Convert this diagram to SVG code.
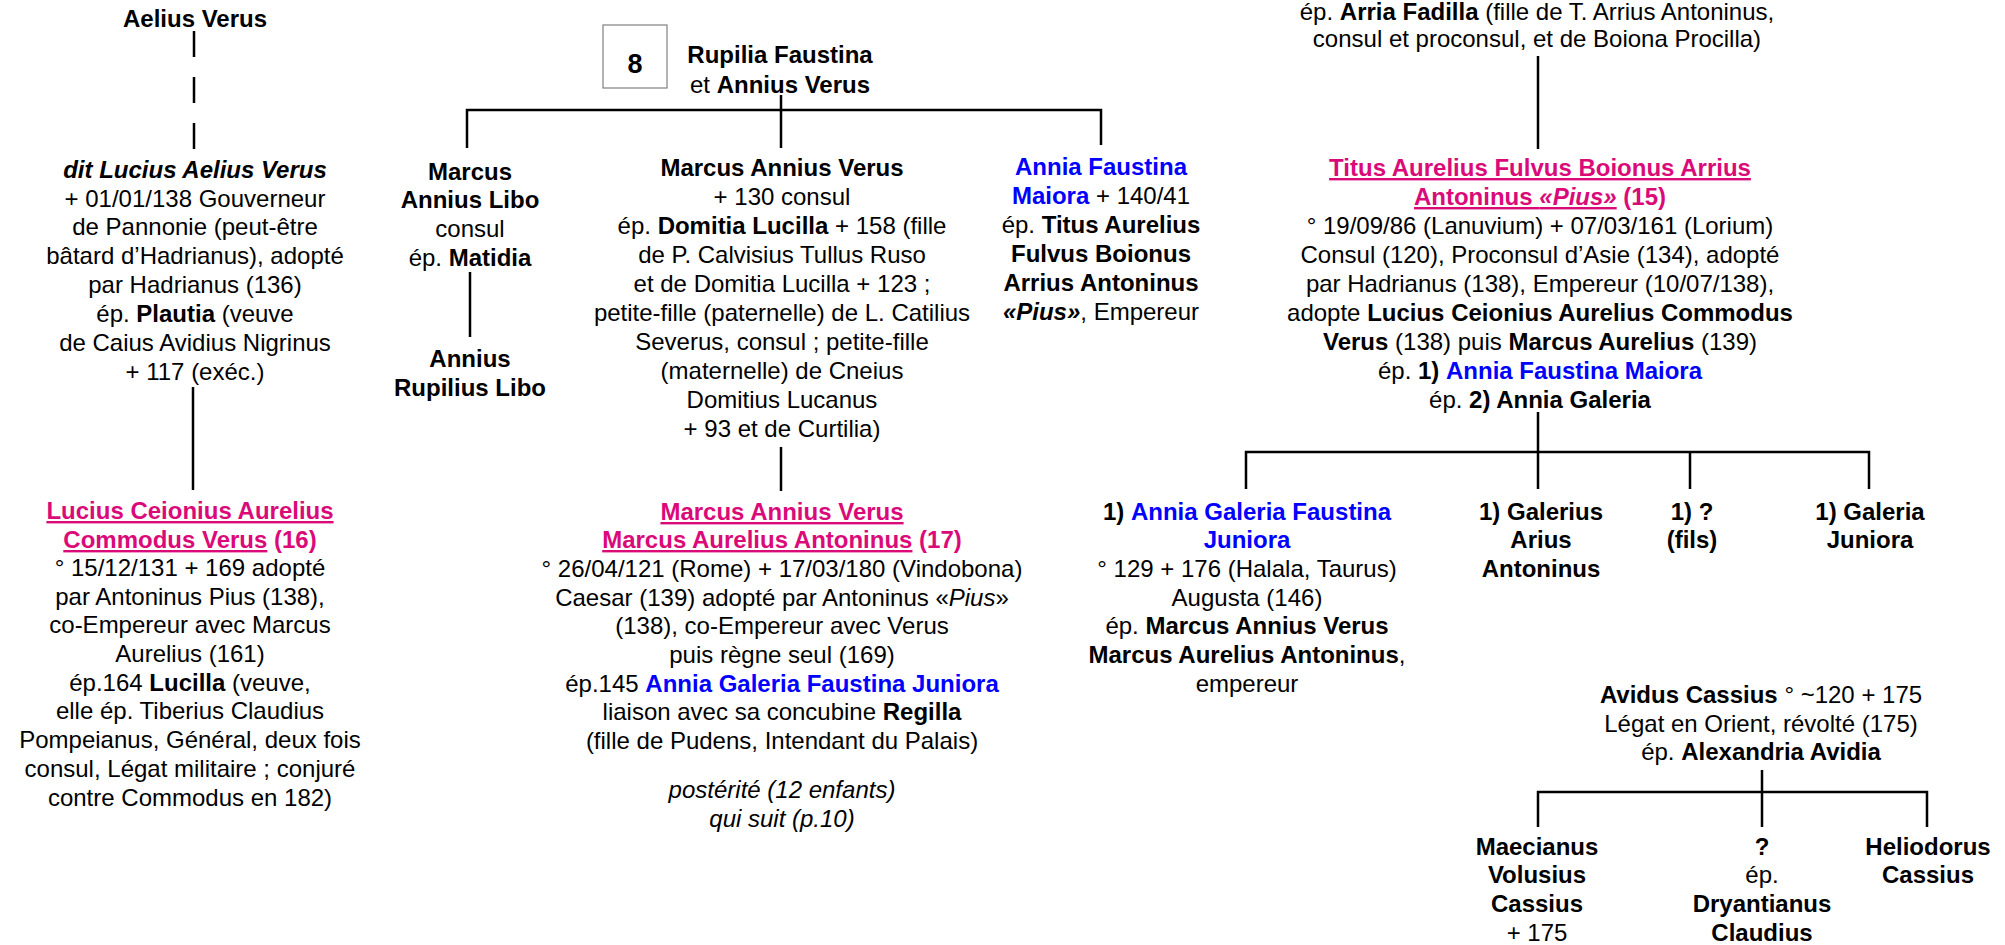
<svg xmlns="http://www.w3.org/2000/svg" width="2005" height="945" viewBox="0 0 2005 945">
<style>
text { font-family: "Liberation Sans", Arial, sans-serif; font-size: 24px; fill: #000; text-anchor: middle; }
.b { font-weight: bold; }
.i { font-style: italic; }
.pk { fill: #DA0A78; font-weight: bold; }
.u { text-decoration: underline; }
.bl { fill: #0000FF; font-weight: bold; }
.c { stroke: #000; stroke-width: 2.5; fill: none; }
.d { stroke-dasharray: 26 20; }
</style>
<rect width="2005" height="945" fill="#fff"/>
<g id="connectors">
  <path class="c d" d="M194,31 V150"/>
  <path class="c" d="M193,387 V490"/>
  <path class="c" d="M467,148 V110 H1101 V145 M781,95 V148"/>
  <path class="c" d="M470,272 V337"/>
  <path class="c" d="M781,447 V491"/>
  <path class="c" d="M1538,56 V149"/>
  <path class="c" d="M1538,412 V489 M1246,489 V452 H1869 V489 M1690,452 V489"/>
  <path class="c" d="M1762,770 V827 M1538,827 V792 H1927 V827"/>
</g>
<g id="n-aelius">
  <text x="195" y="27" class="b">Aelius Verus</text>
</g>
<g id="n-lucius-aelius">
  <text x="195" y="178" class="b i">dit Lucius Aelius Verus</text>
  <text x="195" y="207">+ 01/01/138 Gouverneur</text>
  <text x="195" y="235">de Pannonie (peut-être</text>
  <text x="195" y="264">bâtard d’Hadrianus), adopté</text>
  <text x="195" y="293">par Hadrianus (136)</text>
  <text x="195" y="322">ép. <tspan class="b">Plautia</tspan> (veuve</text>
  <text x="195" y="351">de Caius Avidius Nigrinus</text>
  <text x="195" y="380">+ 117 (exéc.)</text>
</g>
<g id="n-lucius-ceionius">
  <text x="190" y="519" class="pk"><tspan class="u">Lucius Ceionius Aurelius</tspan></text>
  <text x="190" y="548" class="pk"><tspan class="u">Commodus Verus</tspan> (16)</text>
  <text x="190" y="576">° 15/12/131 + 169 adopté</text>
  <text x="190" y="605">par Antoninus Pius (138),</text>
  <text x="190" y="633">co-Empereur avec Marcus</text>
  <text x="190" y="662">Aurelius (161)</text>
  <text x="190" y="691">ép.164 <tspan class="b">Lucilla</tspan> (veuve,</text>
  <text x="190" y="719">elle ép. Tiberius Claudius</text>
  <text x="190" y="748">Pompeianus, Général, deux fois</text>
  <text x="190" y="777">consul, Légat militaire ; conjuré</text>
  <text x="190" y="806">contre Commodus en 182)</text>
</g>
<g id="n-box8">
  <rect x="603" y="25" width="64" height="63" fill="#fff" stroke="#808080" stroke-width="1.2"/>
  <text x="635" y="73" class="b" style="font-size:27px">8</text>
</g>
<g id="n-rupilia">
  <text x="780" y="63" class="b">Rupilia Faustina</text>
  <text x="780" y="93">et <tspan class="b">Annius Verus</tspan></text>
</g>
<g id="n-marcus-libo">
  <text x="470" y="180" class="b">Marcus</text>
  <text x="470" y="208" class="b">Annius Libo</text>
  <text x="470" y="237">consul</text>
  <text x="470" y="266">ép. <tspan class="b">Matidia</tspan></text>
</g>
<g id="n-rupilius-libo">
  <text x="470" y="367" class="b">Annius</text>
  <text x="470" y="396" class="b">Rupilius Libo</text>
</g>
<g id="n-marcus-annius-verus">
  <text x="782" y="176" class="b">Marcus Annius Verus</text>
  <text x="782" y="205">+ 130 consul</text>
  <text x="782" y="234">ép. <tspan class="b">Domitia Lucilla</tspan> + 158 (fille</text>
  <text x="782" y="263">de P. Calvisius Tullus Ruso</text>
  <text x="782" y="292">et de Domitia Lucilla + 123 ;</text>
  <text x="782" y="321">petite-fille (paternelle) de L. Catilius</text>
  <text x="782" y="350">Severus, consul ; petite-fille</text>
  <text x="782" y="379">(maternelle) de Cneius</text>
  <text x="782" y="408">Domitius Lucanus</text>
  <text x="782" y="437">+ 93 et de Curtilia)</text>
</g>
<g id="n-marcus-aurelius">
  <text x="782" y="520" class="pk"><tspan class="u">Marcus Annius Verus</tspan></text>
  <text x="782" y="548" class="pk"><tspan class="u">Marcus Aurelius Antoninus</tspan> (17)</text>
  <text x="782" y="577">° 26/04/121 (Rome) + 17/03/180 (Vindobona)</text>
  <text x="782" y="606">Caesar (139) adopté par Antoninus «<tspan class="i">Pius</tspan>»</text>
  <text x="782" y="634">(138), co-Empereur avec Verus</text>
  <text x="782" y="663">puis règne seul (169)</text>
  <text x="782" y="692">ép.145 <tspan class="bl">Annia Galeria Faustina Juniora</tspan></text>
  <text x="782" y="720">liaison avec sa concubine <tspan class="b">Regilla</tspan></text>
  <text x="782" y="749">(fille de Pudens, Intendant du Palais)</text>
  <text x="782" y="798" class="i">postérité (12 enfants)</text>
  <text x="782" y="827" class="i">qui suit (p.10)</text>
</g>
<g id="n-faustina-maiora">
  <text x="1101" y="175" class="bl">Annia Faustina</text>
  <text x="1101" y="204"><tspan class="bl">Maiora</tspan> + 140/41</text>
  <text x="1101" y="233">ép. <tspan class="b">Titus Aurelius</tspan></text>
  <text x="1101" y="262" class="b">Fulvus Boionus</text>
  <text x="1101" y="291" class="b">Arrius Antoninus</text>
  <text x="1101" y="320"><tspan class="b i">«Pius»</tspan>, Empereur</text>
</g>
<g id="n-arria-fadilla">
  <text x="1537" y="20">ép. <tspan class="b">Arria Fadilla</tspan> (fille de T. Arrius Antoninus,</text>
  <text x="1537" y="47">consul et proconsul, et de Boiona Procilla)</text>
</g>
<g id="n-titus">
  <text x="1540" y="176" class="pk"><tspan class="u">Titus Aurelius Fulvus Boionus Arrius</tspan></text>
  <text x="1540" y="205" class="pk"><tspan class="u">Antoninus <tspan class="i">«Pius»</tspan></tspan> (15)</text>
  <text x="1540" y="234">° 19/09/86 (Lanuvium) + 07/03/161 (Lorium)</text>
  <text x="1540" y="263">Consul (120), Proconsul d’Asie (134), adopté</text>
  <text x="1540" y="292">par Hadrianus (138), Empereur (10/07/138),</text>
  <text x="1540" y="321">adopte <tspan class="b">Lucius Ceionius Aurelius Commodus</tspan></text>
  <text x="1540" y="350"><tspan class="b">Verus</tspan> (138) puis <tspan class="b">Marcus Aurelius</tspan> (139)</text>
  <text x="1540" y="379">ép. <tspan class="b">1)</tspan> <tspan class="bl">Annia Faustina Maiora</tspan></text>
  <text x="1540" y="408">ép. <tspan class="b">2) Annia Galeria</tspan></text>
</g>
<g id="n-faustina-juniora">
  <text x="1247" y="520"><tspan class="b">1)</tspan> <tspan class="bl">Annia Galeria Faustina</tspan></text>
  <text x="1247" y="548" class="bl">Juniora</text>
  <text x="1247" y="577">° 129 + 176 (Halala, Taurus)</text>
  <text x="1247" y="606">Augusta (146)</text>
  <text x="1247" y="634">ép. <tspan class="b">Marcus Annius Verus</tspan></text>
  <text x="1247" y="663"><tspan class="b">Marcus Aurelius Antoninus</tspan>,</text>
  <text x="1247" y="692">empereur</text>
</g>
<g id="n-galerius">
  <text x="1541" y="520" class="b">1) Galerius</text>
  <text x="1541" y="548" class="b">Arius</text>
  <text x="1541" y="577" class="b">Antoninus</text>
</g>
<g id="n-fils">
  <text x="1692" y="520" class="b">1) ?</text>
  <text x="1692" y="548" class="b">(fils)</text>
</g>
<g id="n-galeria-juniora">
  <text x="1870" y="520" class="b">1) Galeria</text>
  <text x="1870" y="548" class="b">Juniora</text>
</g>
<g id="n-avidus">
  <text x="1761" y="703"><tspan class="b">Avidus Cassius</tspan> ° ~120 + 175</text>
  <text x="1761" y="732">Légat en Orient, révolté (175)</text>
  <text x="1761" y="760">ép. <tspan class="b">Alexandria Avidia</tspan></text>
</g>
<g id="n-maecianus">
  <text x="1537" y="855" class="b">Maecianus</text>
  <text x="1537" y="883" class="b">Volusius</text>
  <text x="1537" y="912" class="b">Cassius</text>
  <text x="1537" y="941">+ 175</text>
</g>
<g id="n-dryantianus">
  <text x="1762" y="855" class="b">?</text>
  <text x="1762" y="883">ép.</text>
  <text x="1762" y="912" class="b">Dryantianus</text>
  <text x="1762" y="941" class="b">Claudius</text>
</g>
<g id="n-heliodorus">
  <text x="1928" y="855" class="b">Heliodorus</text>
  <text x="1928" y="883" class="b">Cassius</text>
</g>
</svg>
